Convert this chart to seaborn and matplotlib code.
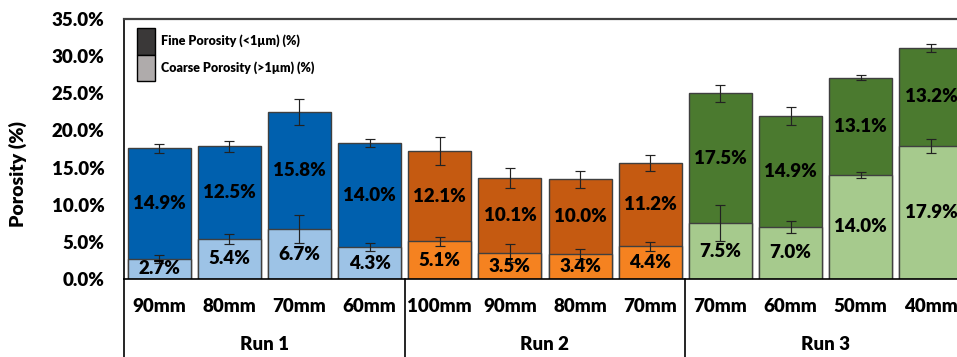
import matplotlib
matplotlib.use("Agg")
import matplotlib.pyplot as plt
import matplotlib.transforms as mtransforms
from matplotlib.patches import Patch
import seaborn as sns
import pandas as pd

# ---- data ----
runs = ["Run 1", "Run 2", "Run 3"]
sizes = ["90mm", "80mm", "70mm", "60mm",
         "100mm", "90mm", "80mm", "70mm",
         "70mm", "60mm", "50mm", "40mm"]
run_of_bar = ["Run 1"] * 4 + ["Run 2"] * 4 + ["Run 3"] * 4
coarse = [2.7, 5.4, 6.7, 4.3, 5.1, 3.5, 3.4, 4.4, 7.5, 7.0, 14.0, 17.9]
fine = [14.9, 12.5, 15.8, 14.0, 12.1, 10.1, 10.0, 11.2, 17.5, 14.9, 13.1, 13.2]
coarse_err = [0.5, 0.72, 1.9, 0.5, 0.6, 1.2, 0.67, 0.6, 2.4, 0.78, 0.43, 0.92]
total_err = [0.63, 0.74, 1.73, 0.56, 1.86, 1.3, 1.1, 1.03, 1.12, 1.23, 0.3, 0.58]
yticks = [0, 5, 10, 15, 20, 25, 30, 35]

fine_colors = {"Run 1": "#0060ae", "Run 2": "#c55a11", "Run 3": "#4b7a2f"}
coarse_colors = {"Run 1": "#9dc3e6", "Run 2": "#f58220", "Run 3": "#a6ca8d"}

keys = [f"{r}-{s}-{i}" for i, (r, s) in enumerate(zip(run_of_bar, sizes))]
total = [c + f for c, f in zip(coarse, fine)]
df = pd.DataFrame({"key": keys, "run": run_of_bar, "coarse": coarse,
                   "fine": fine, "total": total})

plt.rcParams["font.family"] = ["Lato", "DejaVu Sans"]
W = "heavy"
FS = 13.5

fig = plt.figure(figsize=(9.57, 3.57), dpi=100)
ax = fig.add_axes([124 / 957, 1 - 279 / 357, 842 / 957, 260 / 357])

edge = "#3f3f3f"
sns.barplot(data=df, x="key", y="total", hue="key", order=keys,
            palette={k: fine_colors[r] for k, r in zip(keys, run_of_bar)},
            saturation=1, width=0.9, edgecolor=edge, linewidth=1.0,
            errorbar=None, legend=False, ax=ax)
sns.barplot(data=df, x="key", y="coarse", hue="key", order=keys,
            palette={k: coarse_colors[r] for k, r in zip(keys, run_of_bar)},
            saturation=1, width=0.9, edgecolor=edge, linewidth=1.0,
            errorbar=None, legend=False, ax=ax)

xs = list(range(len(keys)))
ax.errorbar(xs, total, yerr=total_err, fmt="none", ecolor="#222222",
            elinewidth=0.85, capsize=3.5, capthick=0.85, zorder=5)
ax.errorbar(xs, coarse, yerr=coarse_err, fmt="none", ecolor="#222222",
            elinewidth=0.85, capsize=3.5, capthick=0.85, zorder=5)

for i in xs:
    ax.text(i, coarse[i] / 2, f"{coarse[i]:.1f}%", ha="center", va="center",
            fontsize=FS, fontweight=W, color="black", zorder=6)
    ax.text(i, coarse[i] + fine[i] / 2, f"{fine[i]:.1f}%", ha="center",
            va="center", fontsize=FS, fontweight=W, color="black", zorder=6)

ax.set_xlim(-0.5, 11.5)
ax.set_ylim(0, 35)
ax.set_yticks(yticks)
ax.set_yticklabels([f"{v:.1f}%" for v in yticks], fontsize=FS, fontweight=W)
ax.tick_params(axis="y", length=0, pad=14)
ax.set_xticks(xs)
ax.set_xticklabels(sizes, fontsize=FS, fontweight=W)
ax.tick_params(axis="x", length=0, pad=14)
ax.set_xlabel("")
ax.set_ylabel("Porosity (%)", fontsize=14, fontweight=W)
ax.yaxis.set_label_coords(-(124 - 27) / 842, (279 - 174) / 260)

for s in ["left", "bottom"]:
    ax.spines[s].set_color("black")
    ax.spines[s].set_linewidth(1.2)
ax.spines["top"].set_color("#404040")
ax.spines["top"].set_linewidth(1.6)
ax.spines["right"].set_color("#404040")
ax.spines["right"].set_linewidth(1.6)

# group separators and run labels
trans = mtransforms.blended_transform_factory(ax.transData, ax.transAxes)
ybot = -(357 - 279) / 260
for xb in [-0.5, 3.5, 7.5, 11.5]:
    ax.plot([xb, xb], [0, ybot], transform=trans, color="black", lw=1.2,
            clip_on=False)
for g, r in enumerate(runs):
    ax.text(4 * g + 1.5, -(345 - 279) / 260, r, transform=trans, ha="center",
            va="center", fontsize=FS, fontweight=W)

handles = [Patch(facecolor="#3a3838", edgecolor="black", linewidth=1.0),
           Patch(facecolor="#afabab", edgecolor="black", linewidth=1.0)]
ax.legend(handles, ["Fine Porosity (<1µm) (%)", "Coarse Porosity (>1µm) (%)"],
          loc="upper left", bbox_to_anchor=(13 / 842, 1 - 9 / 260),
          frameon=False, prop={"weight": W, "size": 9},
          handlelength=1.4, handleheight=2.9, labelspacing=0.0,
          handletextpad=0.5, borderpad=0.0, borderaxespad=0.0)

fig.savefig("out.png", dpi=100)
